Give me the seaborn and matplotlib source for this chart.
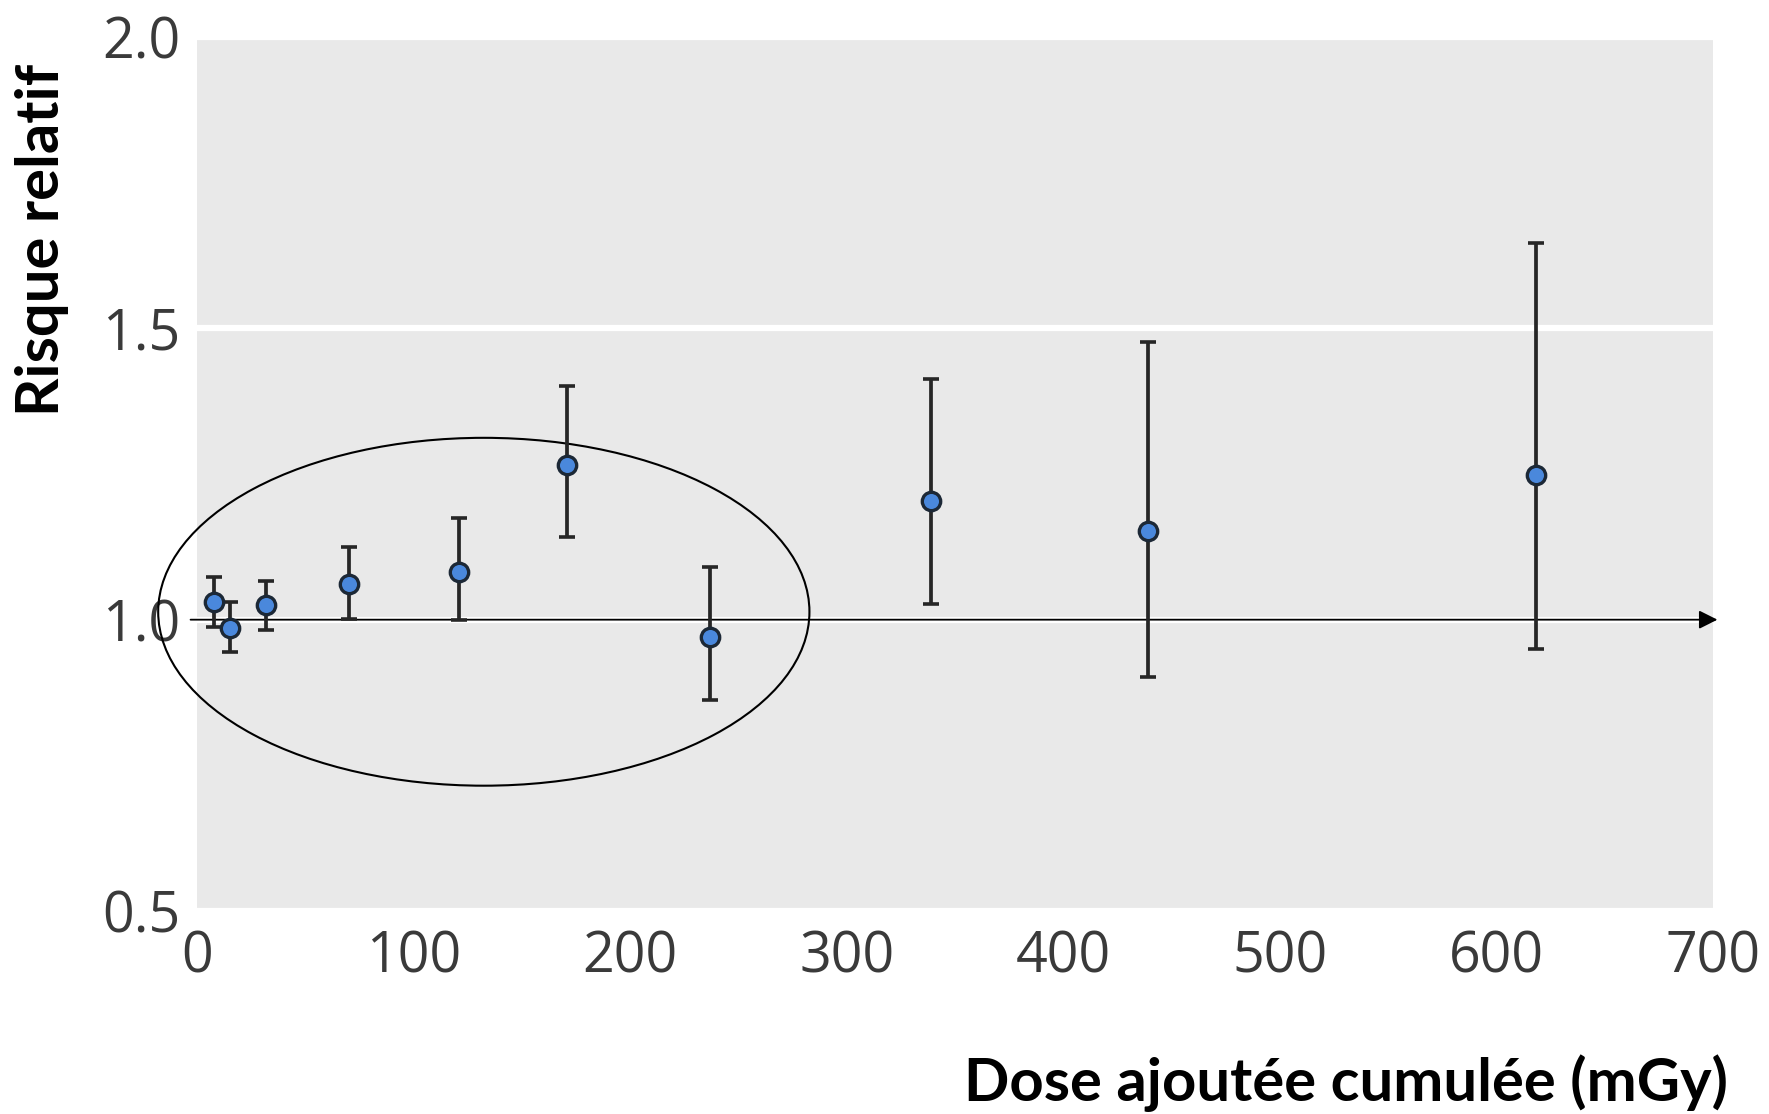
import matplotlib
matplotlib.use("Agg")
import matplotlib.pyplot as plt
from matplotlib.patches import Ellipse
from matplotlib import font_manager
import seaborn as sns
import pandas as pd

# ---- data ----
dose = [8, 15, 32, 70, 121, 171, 237, 339, 439, 618]
rr = [1.030, 0.986, 1.025, 1.062, 1.081, 1.265, 0.970, 1.204, 1.153, 1.248]
ci_low = [0.987, 0.944, 0.982, 1.002, 0.999, 1.142, 0.862, 1.027, 0.901, 0.949]
ci_high = [1.074, 1.030, 1.066, 1.124, 1.174, 1.401, 1.091, 1.413, 1.477, 1.647]
x_ticks = [0, 100, 200, 300, 400, 500, 600, 700]
y_ticks = [0.5, 1.0, 1.5, 2.0]
y_ticklabels = ["0.5", "1.0", "1.5", "2.0"]
x_label = "Dose ajoutée cumulée (mGy)"
y_label = "Risque relatif"

df = pd.DataFrame({"dose": dose, "rr": rr, "lo": ci_low, "hi": ci_high})

sns.set_style("darkgrid", {"axes.facecolor": "#e9e9e9", "grid.color": "white"})

names = {f.name for f in font_manager.fontManager.ttflist}
bold_font = "DejaVu Sans"
for cand in ["Lato", "Liberation Sans", "Open Sans", "DejaVu Sans"]:
    if cand in names:
        bold_font = cand
        break
tick_font = "Open Sans" if "Open Sans" in names else "DejaVu Sans"
plt.rcParams["font.family"] = [tick_font, "DejaVu Sans"]

fig = plt.figure(figsize=(17.69, 11.14), dpi=100)
ax = fig.add_axes([0.1114, 0.1822, 0.8570, 0.7846])

# error bars
ax.errorbar(df["dose"], df["rr"],
            yerr=[df["rr"] - df["lo"], df["hi"] - df["rr"]],
            fmt="none", ecolor="#262626", elinewidth=2.7, capsize=6, capthick=2.6,
            zorder=3)
# points
sns.scatterplot(data=df, x="dose", y="rr", ax=ax, s=175, color="#4a88dc",
                edgecolor="#1c2836", linewidth=2.4, zorder=4, legend=False)

ax.set_xlim(0, 700)
ax.set_ylim(0.5, 2.0)
ax.set_xticks(x_ticks)
ax.set_yticks(y_ticks)
ax.set_yticklabels(y_ticklabels)
ax.grid(False)
ax.yaxis.grid(True, color="white", linewidth=4.5)
ax.xaxis.grid(False)
for s in ax.spines.values():
    s.set_visible(False)

ax.tick_params(axis="x", direction="in", length=11, width=1.6, color="white",
               labelsize=40, labelcolor="#3a3a3a", pad=13)
ax.tick_params(axis="y", length=0, labelsize=40, labelcolor="#3a3a3a", pad=12)

# axis labels
ax.set_xlabel(x_label, fontsize=43, fontweight="bold", family=[bold_font, "DejaVu Sans"],
              ha="right", va="center", color="black")
ax.xaxis.set_label_coords(1.0099, -0.197)
ax.set_ylabel(y_label, fontsize=43, fontweight="bold", family=[bold_font, "DejaVu Sans"],
              va="center", ha="center", color="black")
ax.yaxis.set_label_coords(-0.1022, 0.768)

# reference arrow at RR = 1
ax.annotate("", xy=(702, 1.0), xytext=(-3, 1.0), xycoords="data",
            arrowprops=dict(arrowstyle="-|>", color="black", lw=1.3,
                            mutation_scale=28, shrinkA=0, shrinkB=0),
            annotation_clip=False, zorder=2)

# ellipse highlighting the low-dose region
ell = Ellipse((132.4, 1.0136), width=300.7, height=0.597, fill=False,
              edgecolor="black", linewidth=1.5, clip_on=False, zorder=2)
ax.add_patch(ell)

fig.savefig("out.png", dpi=100)
